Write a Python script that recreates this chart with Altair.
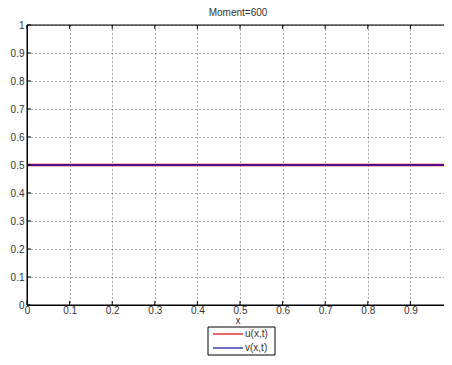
import altair as alt
import pandas as pd

x_vals = [0.0, 1.0]
u_vals = [0.5, 0.5]
v_vals = [0.5, 0.5]
series_names = ["u(x,t)", "v(x,t)"]
series_colors = ["#E00000", "#1010A0"]
x_ticks = [0, 0.1, 0.2, 0.3, 0.4, 0.5, 0.6, 0.7, 0.8, 0.9, 1.0]
y_ticks = [0, 0.1, 0.2, 0.3, 0.4, 0.5, 0.6, 0.7, 0.8, 0.9, 1.0]
title_text = "Moment=600"
x_title = "x"

FONT = "Liberation Sans"
W, H = 426, 280
TXT = "#333333"

df_u = pd.DataFrame({"x": x_vals, "y": u_vals})
df_v = pd.DataFrame({"x": x_vals, "y": v_vals})

xs = alt.Scale(domain=[0, 1], nice=False, zero=False)
ys = alt.Scale(domain=[0, 1], nice=False, zero=False)

x_axis = alt.Axis(values=x_ticks, title=None, grid=True, gridDash=[1, 3],
                  gridColor="#000000", gridOpacity=0.7, ticks=False,
                  domainColor="#000000", format=".1~f", labelOverlap=False,
                  labelFont=FONT, labelFontSize=10, labelColor=TXT,
                  labelPadding=0, labelFlush=False)
y_axis = alt.Axis(values=y_ticks, title=None, grid=True, gridDash=[1, 3],
                  gridColor="#000000", gridOpacity=0.7, ticks=False,
                  domainColor="#000000", format=".1~f", labelOverlap=False,
                  labelFont=FONT, labelFontSize=10, labelColor=TXT,
                  labelPadding=3, labelFlush=False)

line_u = alt.Chart(df_u).mark_line(clip=True, color="#FF0000", strokeWidth=2.5).encode(
    x=alt.X("x:Q", scale=xs, axis=x_axis),
    y=alt.Y("y:Q", scale=ys, axis=y_axis),
)
line_v = alt.Chart(df_v).mark_line(clip=True, color="#1010C0", strokeWidth=2,
                                   opacity=0.7).encode(
    x=alt.X("x:Q", scale=xs, axis=x_axis),
    y=alt.Y("y:Q", scale=ys, axis=y_axis),
)

# inward ticks (MATLAB style)
xt = pd.DataFrame({"x": x_ticks})
yt = pd.DataFrame({"y": y_ticks})
tick_bottom = alt.Chart(xt).mark_rule(color="#000000", strokeWidth=1).encode(
    x=alt.X("x:Q", scale=xs, axis=x_axis), y=alt.value(H), y2=alt.value(H - 4))
tick_top = alt.Chart(xt).mark_rule(color="#000000", strokeWidth=1).encode(
    x=alt.X("x:Q", scale=xs, axis=x_axis), y=alt.value(0), y2=alt.value(4))
tick_left = alt.Chart(yt).mark_rule(color="#000000", strokeWidth=1).encode(
    y=alt.Y("y:Q", scale=ys, axis=y_axis), x=alt.value(0), x2=alt.value(4))

# box (top and right borders)
box = alt.Chart(pd.DataFrame({"a": [0]})).mark_rect(
    fill=None, stroke="#000000", strokeWidth=1
).encode(x=alt.value(0), x2=alt.value(W), y=alt.value(0), y2=alt.value(H))

# title and x-axis title as text marks
title_mark = alt.Chart(pd.DataFrame({"s": [title_text]})).mark_text(
    align="center", baseline="middle", font=FONT, fontSize=10, color=TXT, clip=False
).encode(x=alt.value(211), y=alt.value(-12), text="s:N")
xtitle_mark = alt.Chart(pd.DataFrame({"s": [x_title]})).mark_text(
    align="center", baseline="middle", font=FONT, fontSize=10, color=TXT, clip=False
).encode(x=alt.value(211), y=alt.value(H + 16), text="s:N")

# manual legend box
LX, LY, LW, LH = 181, 302, 67, 28
leg_box = alt.Chart(pd.DataFrame({"a": [0]})).mark_rect(
    fill="#ffffff", stroke="#000000", strokeWidth=1, clip=False
).encode(x=alt.value(LX), x2=alt.value(LX + LW), y=alt.value(LY), y2=alt.value(LY + LH))

legend_layers = [leg_box]
for i, (name, col) in enumerate(zip(series_names, series_colors)):
    ry = LY + 7 + i * 14
    legend_layers.append(
        alt.Chart(pd.DataFrame({"s": [name]})).mark_rule(color=col, strokeWidth=1.2, clip=False)
        .encode(x=alt.value(LX + 5), x2=alt.value(LX + 35), y=alt.value(ry))
    )
    legend_layers.append(
        alt.Chart(pd.DataFrame({"s": [name]})).mark_text(
            align="left", baseline="middle", font=FONT, fontSize=10, color=TXT, clip=False)
        .encode(x=alt.value(LX + 37), y=alt.value(ry), text="s:N")
    )

chart = alt.layer(line_u, line_v, tick_bottom, tick_top, tick_left, box,
                  title_mark, xtitle_mark, *legend_layers).properties(
    width=W, height=H,
    autosize=alt.AutoSizeParams(type="none"),
    padding={"left": 19, "top": 17, "right": -9, "bottom": 51},
).configure_view(stroke=None).configure(background="#ffffff")

chart.save("out.html", embed_options={"renderer": "svg", "actions": False})
